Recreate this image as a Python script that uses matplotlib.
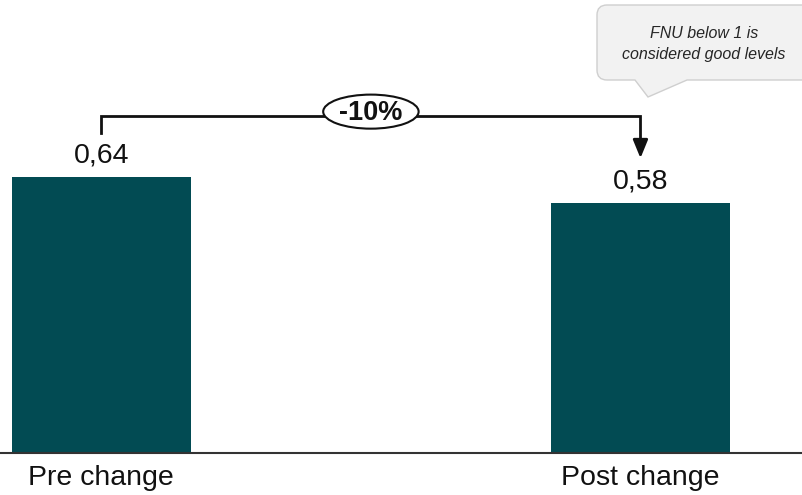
import matplotlib
matplotlib.use("Agg")
import matplotlib.pyplot as plt
from matplotlib.patches import Ellipse, PathPatch
from matplotlib.path import Path

categories = ["Pre change", "Post change"]
values = [0.64, 0.58]
value_labels = ["0,64", "0,58"]
change_label = "-10%"
note_text = "FNU below 1 is\nconsidered good levels"

bar_color = "#024b53"
W, H = 803, 495

plt.rcParams['font.family'] = ['Liberation Sans', 'DejaVu Sans']

fig = plt.figure(figsize=(W / 100, H / 100), dpi=100)
ax = fig.add_axes([0, 42 / H, 1, 453 / H])

x = list(range(len(categories)))
ax.bar(x, values, width=0.332, color=bar_color, zorder=2)

for xi, v, lab in zip(x, values, value_labels):
    ax.annotate(lab, (xi, v), xytext=(0, 6), textcoords="offset points",
                ha="center", va="bottom", fontsize=20.5, color="#111111")

ax.set_xlim(-0.188, 1.3015)
ax.set_ylim(0, 1.051)
ax.set_xticks(x)
ax.set_xticklabels(categories, fontsize=20.5, color="#111111")
ax.tick_params(axis="x", length=0, pad=8.5)
ax.set_yticks([])
for s in ["top", "right", "left"]:
    ax.spines[s].set_visible(False)
ax.spines["bottom"].set_color("#333333")
ax.spines["bottom"].set_linewidth(1.5)

# bracket with change arrow
top = 0.782
ax.plot([x[0], x[0], x[1], x[1]], [0.742, top, top, 0.72],
        color="#111111", lw=2, solid_joinstyle="miter", zorder=3)
ax.annotate("", xy=(x[1], 0.684), xytext=(x[1], 0.725),
            arrowprops=dict(arrowstyle="-|>,head_length=1.1,head_width=0.45",
                            color="#111111", lw=2, shrinkA=0, shrinkB=0))
mid = (x[0] + x[1]) / 2
ax.add_patch(Ellipse((mid, 0.792), 0.177, 0.079, facecolor="white",
                     edgecolor="#111111", lw=1.5, zorder=4))
ax.text(mid, 0.788, change_label, ha="center", va="center", fontsize=19.5,
        fontweight="bold", color="#111111", zorder=5)

# speech bubble
def fp(px, py):
    return (px / W, 1 - py / H)

r = 10
verts = [fp(597 + r, 5), fp(815, 5), fp(815, 80), fp(687, 80), fp(648, 97),
         fp(635, 80), fp(597 + r, 80), fp(597, 80), fp(597, 80 - r),
         fp(597, 5 + r), fp(597, 5), fp(597 + r, 5), fp(597 + r, 5)]
codes = [Path.MOVETO, Path.LINETO, Path.LINETO, Path.LINETO, Path.LINETO,
         Path.LINETO, Path.LINETO, Path.CURVE3, Path.CURVE3,
         Path.LINETO, Path.CURVE3, Path.CURVE3, Path.CLOSEPOLY]
fig.patches.append(PathPatch(Path(verts, codes), transform=fig.transFigure,
                             facecolor="#f2f2f2", edgecolor="#cfcfcf", lw=1))
fig.text(*fp(704, 44), note_text, ha="center", va="center", fontsize=11.5,
         style="italic", color="#262626", linespacing=1.45)

fig.savefig("out.png", dpi=100)
